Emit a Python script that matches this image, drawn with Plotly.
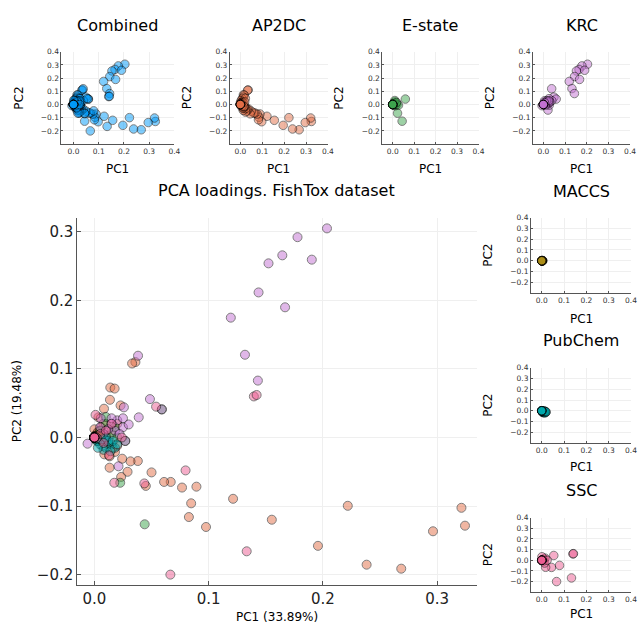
import plotly.graph_objects as go

W, H = 644, 625

# ---------------- data (PC1, PC2 loadings per fingerprint type) ----------------
ap2dc_x = [0.3244, 0.3213, 0.2964, 0.2686, 0.2383, 0.2218, 0.1957, 0.1553, 0.1214, 0.0977,
           0.0893, 0.0847, 0.0827, 0.0767, 0.0668, 0.0610, 0.0500, 0.0450, 0.0380, 0.0316,
           0.0290, 0.0234, 0.0133, 0.0243, 0.0180, 0.0087, 0.0133, 0.0359, 0.0330, 0.0139,
           0.0177, 0.0136, 0.0084, 0.0229, 0.0035, 0.0200, 0.0000, 0.0020, 0.0050, 0.0030,
           0.0080, 0.0100, 0.0120, 0.0060, 0.0150, 0.0010, 0.0040, 0.0070, 0.0000, 0.0200,
           0.0160, 0.0030, 0.0010, 0.0000, 0.0000, 0.0000, 0.0000, 0.0000, 0.0000, 0.0000]
ap2dc_y = [-0.1286, -0.1025, -0.1368, -0.1913, -0.1855, -0.0996, -0.1580, -0.1199, -0.0894, -0.1305,
           -0.0717, -0.0960, -0.1160, -0.0730, -0.0648, -0.0648, -0.0509, -0.0706, -0.0343, -0.0348,
           -0.0500, -0.0575, -0.0440, -0.0309, -0.0210, -0.0246, -0.0275, 0.1100, 0.1080, 0.0729,
           0.0714, 0.0550, 0.0420, 0.0468, 0.0294, -0.0120, 0.0000, 0.0050, 0.0100, -0.0050,
           0.0200, 0.0030, -0.0080, 0.0150, 0.0100, -0.0020, 0.0020, -0.0120, 0.0120, 0.0200,
           -0.0150, 0.0080, 0.0010, 0.0000, 0.0000, 0.0000, 0.0000, 0.0000, 0.0000, 0.0000]

estate_x = [0.000, 0.002, 0.005, 0.010, 0.008, 0.015, 0.012, 0.020, 0.003, 0.059,
            0.027, 0.0226, 0.044, 0.010, 0.018, 0.001, 0.000, 0.000, 0.000, 0.000,
            0.000, 0.000]
estate_y = [0.000, 0.003, 0.010, 0.020, 0.000, 0.005, -0.010, 0.000, -0.005, 0.041,
            -0.005, -0.066, -0.1266, 0.030, 0.015, 0.001, 0.000, 0.000, 0.000, 0.000,
            0.000, 0.000]

krc_x = [0.2036, 0.1778, 0.1645, 0.1903, 0.1524, 0.1437, 0.1669, 0.1194, 0.1318, 0.1431,
         0.0382, 0.0486, 0.0590, 0.0388, 0.0258, 0.0211, 0.0270, 0.0055, 0.0150, 0.0200,
         0.0250, 0.0180, 0.0220, 0.0120, 0.0300, 0.0080, 0.0000, -0.0060, 0.0100, 0.0150,
         0.0250, 0.0050, 0.0000, 0.0000, 0.0000, 0.0000, 0.0000, 0.0000]
krc_y = [0.3050, 0.2922, 0.2657, 0.2594, 0.2540, 0.2116, 0.1899, 0.1748, 0.1207, 0.0830,
         0.1193, 0.0560, 0.0410, 0.0294, 0.0440, -0.0420, -0.0050, 0.0280, 0.0200, 0.0250,
         0.0150, 0.0100, 0.0050, 0.0120, 0.0190, 0.0050, 0.0000, -0.0090, -0.0050, 0.0280,
         0.0280, 0.0150, 0.0000, 0.0000, 0.0000, 0.0000, 0.0000, 0.0000]

maccs_x = [0.000, 0.001, 0.002, 0.003, 0.001, 0.004, 0.002, 0.000, 0.005, 0.003,
           0.000, 0.000, 0.000, 0.000]
maccs_y = [0.000, 0.001, -0.001, 0.002, -0.002, 0.000, 0.003, 0.002, 0.001, -0.002,
           0.000, 0.000, 0.000, 0.000]

pubchem_x = [0.005, 0.010, 0.015, 0.008, 0.002, 0.012, 0.018, 0.000, 0.003, 0.014,
             0.006, 0.010, 0.016, 0.020, 0.000, 0.000, 0.000, 0.000, 0.000, 0.000]
pubchem_y = [-0.010, -0.015, -0.010, -0.018, -0.005, -0.005, -0.015, 0.000, -0.015, -0.020,
             -0.003, 0.000, -0.005, -0.010, 0.000, 0.000, 0.000, 0.000, 0.000, 0.000]

ssc_x = [0.1396, 0.1420, 0.0540, 0.0798, 0.0437, 0.0174, 0.1333, 0.0665, 0.0050, 0.0100,
         0.0080, 0.0150, 0.0128, 0.0010, 0.0240, 0.0000, 0.0010, 0.0020, 0.0000, 0.0000,
         0.0000, 0.0000, 0.0000, 0.0000]
ssc_y = [0.0599, 0.0620, 0.0450, -0.0480, -0.0670, -0.0660, -0.1660, -0.2000, 0.0050, 0.0100,
         -0.0080, 0.0200, -0.0260, 0.0330, 0.0000, 0.0000, 0.0010, -0.0010, 0.0000, 0.0000,
         0.0000, 0.0000, 0.0000, 0.0000]

series_names = ["AP2DC", "E-state", "KRC", "MACCS", "PubChem", "SSC"]
series_x = [ap2dc_x, estate_x, krc_x, maccs_x, pubchem_x, ssc_x]
series_y = [ap2dc_y, estate_y, krc_y, maccs_y, pubchem_y, ssc_y]
series_colors = ["#E36F47", "#3EA44E", "#C371D2", "#AC8E18", "#00AAAE", "#ED5E93"]
combined_color = "#009AFA"

combined_x = [v for s in series_x for v in s]
combined_y = [v for s in series_y for v in s]

small_ticks_x = [0.0, 0.1, 0.2, 0.3, 0.4]
small_ticks_y = [-0.2, -0.1, 0.0, 0.1, 0.2, 0.3, 0.4]
main_ticks_x = [0.0, 0.1, 0.2, 0.3]
main_ticks_y = [-0.2, -0.1, 0.0, 0.1, 0.2, 0.3]

FONT = "DejaVu Sans"

# ---------------- layout geometry (pixels) ----------------
def px_dom_x(a, b):
    return [a / W, b / W]

def px_dom_y(top, bottom):
    return [1 - bottom / H, 1 - top / H]

# name: (axis index, left, right, top, bottom)
small_boxes = {
    "Combined": (2, 62, 176, 48, 141),
    "AP2DC": (3, 232, 331, 48, 141),
    "E-state": (4, 386, 483, 48, 141),
    "KRC": (5, 538, 636, 48, 141),
    "MACCS": (6, 536, 637, 215, 291),
    "PubChem": (7, 536, 637, 366, 442),
    "SSC": (8, 536, 637, 517, 592),
}
main_box = (1, 78, 481, 215, 585)

fig = go.Figure()

def add_scatter(xs, ys, color, idx, size):
    suffix = "" if idx == 1 else str(idx)
    fig.add_trace(go.Scatter(
        x=xs, y=ys, mode="markers", showlegend=False,
        xaxis="x" + suffix, yaxis="y" + suffix,
        marker=dict(size=size, color=color, opacity=0.5,
                    line=dict(color="black", width=1)),
        hoverinfo="x+y",
    ))

# main plot
for xs, ys, c in zip(series_x, series_y, series_colors):
    add_scatter(xs, ys, c, 1, 9)

# small plots
add_scatter(combined_x, combined_y, combined_color, 2, 8.5)
for name, xs, ys, c in zip(series_names, series_x, series_y, series_colors):
    add_scatter(xs, ys, c, small_boxes[name][0], 8.5)

axis_common = dict(
    showgrid=True, gridcolor="#efefef", gridwidth=1,
    showline=True, linecolor="#555555", linewidth=1,
    zeroline=False, ticks="inside", tickcolor="#555555",
    mirror=False,
)

layout = dict(
    width=W, height=H, margin=dict(l=0, r=0, t=0, b=0),
    paper_bgcolor="white", plot_bgcolor="white",
    showlegend=False, font=dict(family=FONT, color="#000000"),
)

# main axes
_, l, r, t, b = main_box
layout["xaxis"] = dict(axis_common, domain=px_dom_x(l, r), range=[-0.015, 0.3345],
                       tickvals=main_ticks_x, ticktext=[f"{v:.1f}" for v in main_ticks_x],
                       tickfont=dict(size=15, family=FONT, color="#222"), ticklen=4,
                       anchor="y")
layout["yaxis"] = dict(axis_common, domain=px_dom_y(t, b), range=[-0.2155, 0.3207],
                       tickvals=main_ticks_y,
                       ticktext=[f"{v:.1f}".replace("-", "\u2212") for v in main_ticks_y],
                       tickfont=dict(size=15, family=FONT, color="#222"), ticklen=4,
                       anchor="x")

for name, (idx, l, r, t, b) in small_boxes.items():
    s = str(idx)
    layout["xaxis" + s] = dict(axis_common, domain=px_dom_x(l, r), range=[-0.048, 0.4],
                               tickvals=small_ticks_x,
                               ticktext=[f"{v:.1f}" for v in small_ticks_x],
                               tickfont=dict(size=7.5, family=FONT, color="#333"), ticklen=2,
                               anchor="y" + s)
    layout["yaxis" + s] = dict(axis_common, domain=px_dom_y(t, b), range=[-0.3, 0.4],
                               tickvals=small_ticks_y,
                               ticktext=[f"{v:.1f}".replace("-", "\u2212") for v in small_ticks_y],
                               tickfont=dict(size=7.5, family=FONT, color="#333"), ticklen=2,
                               anchor="x" + s)

fig.update_layout(**layout)

def ann(text, xpx, ypx, size, angle=0):
    fig.add_annotation(text=text, x=xpx / W, y=1 - ypx / H, xref="paper", yref="paper",
                       showarrow=False, xanchor="center", yanchor="middle",
                       textangle=angle, font=dict(size=size, family=FONT, color="black"))

# titles
title_y = {"Combined": 22, "AP2DC": 22, "E-state": 22, "KRC": 22,
           "MACCS": 189, "PubChem": 339, "SSC": 490}
xlabel_y = {"Combined": 166, "AP2DC": 166, "E-state": 166, "KRC": 166,
            "MACCS": 317, "PubChem": 466, "SSC": 614}
ylabel_x = {"Combined": 19, "AP2DC": 189, "E-state": 342, "KRC": 495,
            "MACCS": 493, "PubChem": 493, "SSC": 493}
for name, (idx, l, r, t, b) in small_boxes.items():
    ann(name, (l + r) / 2, title_y[name], 16)
    ann("PC1", (l + r) / 2, xlabel_y[name], 12)
    ann("PC2", ylabel_x[name], (t + b) / 2, 12, angle=-90)

ann("PCA loadings. FishTox dataset", (78 + 481) / 2, 188, 16)
ann("PC1 (33.89%)", (78 + 481) / 2, 617, 12)
ann("PC2 (19.48%)", 18, 400, 12, angle=-90)

fig.write_html("out.html")
